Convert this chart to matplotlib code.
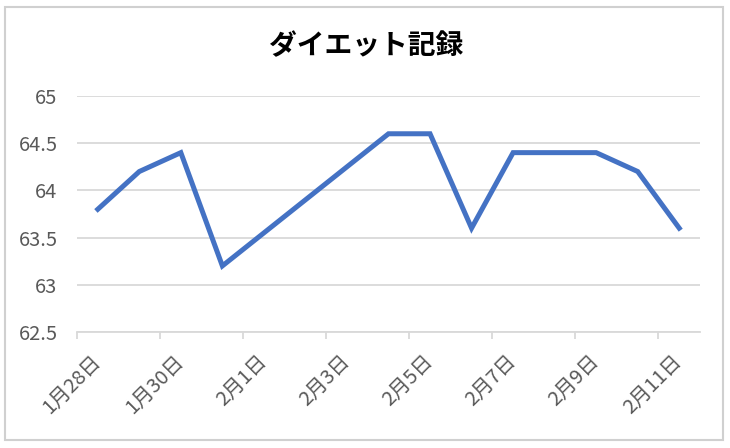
import datetime as dt

import matplotlib
matplotlib.use("Agg")
import matplotlib.pyplot as plt
import matplotlib.dates as mdates
from matplotlib.patches import Rectangle

plt.rcParams['font.family'] = ['Noto Sans CJK JP', 'DejaVu Sans']

title = "ダイエット記録"

# recorded days (2/1 - 2/3 have no entry, Excel joins the gap)
dates = [
    dt.date(2024, 1, 28), dt.date(2024, 1, 29), dt.date(2024, 1, 30), dt.date(2024, 1, 31),
    dt.date(2024, 2, 4), dt.date(2024, 2, 5), dt.date(2024, 2, 6), dt.date(2024, 2, 7),
    dt.date(2024, 2, 8), dt.date(2024, 2, 9), dt.date(2024, 2, 10), dt.date(2024, 2, 11),
]
weights = [63.8, 64.2, 64.4, 63.2, 64.6, 64.6, 63.6, 64.4, 64.4, 64.4, 64.2, 63.6]

first_day = dt.date(2024, 1, 28)
last_day = dt.date(2024, 2, 11)
label_step = 2

y_min, y_max, y_step = 62.5, 65.0, 0.5

line_color = "#4472C4"
grid_color = "#D9D9D9"
text_color = "#595959"

fig = plt.figure(figsize=(7.3, 4.48), dpi=100)
ax = fig.add_axes([77 / 730, 1 - 332 / 448, 623 / 730, 236 / 448])

x = mdates.date2num(dates)
ax.plot(x, weights, color=line_color, linewidth=3.6, solid_joinstyle='miter', zorder=3)

x0 = mdates.date2num(first_day)
x1 = mdates.date2num(last_day)
ax.set_xlim(x0 - 0.5, x1 + 0.5)
ax.set_ylim(y_min, y_max)

# y axis: gridlines only
yt = [y_min + i * y_step for i in range(int(round((y_max - y_min) / y_step)) + 1)]
ax.set_yticks(yt)
ax.set_yticklabels([f"{v:g}" for v in yt])
ax.yaxis.grid(True, color=grid_color, linewidth=1.3)
ax.tick_params(axis='y', length=0, pad=14, labelsize=14.5, labelcolor=text_color)

# x axis: ticks on category borders, labels on centres
n_days = int(x1 - x0) + 1
ax.set_xticks([x0 - 0.5 + i for i in range(0, n_days + 1, label_step)])
ax.set_xticklabels([])
ax.tick_params(axis='x', which='major', length=5, width=1.3, color=grid_color)
label_pos = [x0 + i for i in range(0, n_days, label_step)]
ax.set_xticks(label_pos, minor=True)
ax.set_xticklabels(
    [f"{mdates.num2date(p).month}月{mdates.num2date(p).day}日" for p in label_pos],
    minor=True, rotation=45, ha='right', va='center', rotation_mode='anchor')
ax.tick_params(axis='x', which='minor', length=0, pad=19, labelsize=14.5, labelcolor=text_color)

for side in ['top', 'right', 'left']:
    ax.spines[side].set_visible(False)
ax.spines['bottom'].set_color(grid_color)
ax.spines['bottom'].set_linewidth(1.3)
ax.set_axisbelow(True)

fig.text(366 / 730, 1 - 46 / 448, title, ha='center', va='center',
         fontsize=20, fontweight='bold', color='black')

# chart frame
fig.patches.append(Rectangle((5 / 730, 1 - 440 / 448), 718 / 730, 433 / 448,
                             transform=fig.transFigure, fill=False,
                             edgecolor="#D0D0D0", linewidth=1.5))

fig.savefig("out.png", dpi=100)
